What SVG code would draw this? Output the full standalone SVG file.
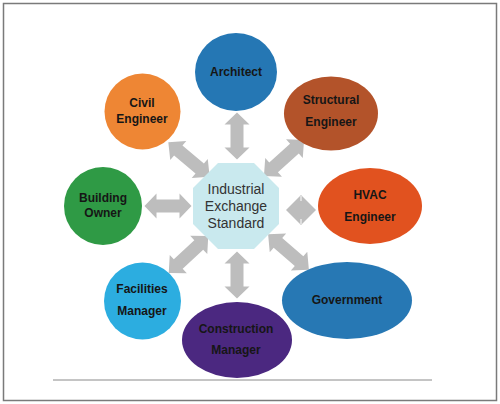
<svg xmlns="http://www.w3.org/2000/svg" width="500" height="404" viewBox="0 0 500 404">
<style>
.lbl{font-family:"Liberation Sans",Arial,sans-serif;font-weight:bold;font-size:12px;fill:#161616;text-anchor:middle}
.ctr{font-family:"Liberation Sans",Arial,sans-serif;font-size:14px;fill:#333;text-anchor:middle}
.arr{fill:#bdbdbd}
</style>
<defs>
<path id="dlong" d="M-27,0 L-14,-12.5 L-14,-6.5 L14,-6.5 L14,-12.5 L27,0 L14,12.5 L14,6.5 L-14,6.5 L-14,12.5 Z"/>
<path id="dshort" d="M-23.5,0 L-11.5,-12.5 L-11.5,-6.5 L11.5,-6.5 L11.5,-12.5 L23.5,0 L11.5,12.5 L11.5,6.5 L-11.5,6.5 L-11.5,12.5 Z"/>
</defs>
<rect x="0" y="0" width="500" height="404" fill="#fff"/>
<rect x="3.5" y="3.5" width="493" height="397" fill="#fff" stroke="#7a7a7a" stroke-width="1.5"/>
<line x1="53" y1="380" x2="432" y2="380" stroke="#8a8a8a" stroke-width="1"/>
<g id="connectors" class="arr">
<use href="#dshort" transform="translate(237,136) rotate(90)"/>
<use href="#dshort" transform="translate(237,275) rotate(90)"/>
<use href="#dshort" transform="translate(168,206)"/>
<use href="#dlong" transform="translate(189,159.5) rotate(40)"/>
<use href="#dlong" transform="translate(284,158) rotate(-42)"/>
<use href="#dlong" transform="translate(188.5,254.5) rotate(-43)"/>
<use href="#dlong" transform="translate(288.5,252) rotate(41)"/>
<g id="hvac-link">
<polygon points="286,210 301,195 316,210 301,225"/>
<line x1="301" y1="196" x2="301" y2="201" stroke="#fff" stroke-width="1"/>
<line x1="301" y1="219" x2="301" y2="224" stroke="#fff" stroke-width="1"/>
</g>
</g>
<g id="center">
<polygon points="218,163 254,163 279,188 279,224 254,249 218,249 193,224 193,188" fill="#c9e9ee"/>
<text class="ctr" x="236" y="194">Industrial</text>
<text class="ctr" x="236" y="211">Exchange</text>
<text class="ctr" x="236" y="228">Standard</text>
</g>
<g id="architect">
<ellipse cx="236" cy="72" rx="41" ry="39" fill="#2577b4"/>
<text class="lbl" x="236" y="76">Architect</text>
</g>
<g id="civil">
<ellipse cx="142.5" cy="111.5" rx="38" ry="38" fill="#ee8634"/>
<text class="lbl" x="142" y="107">Civil</text>
<text class="lbl" x="142" y="123">Engineer</text>
</g>
<g id="structural">
<ellipse cx="331" cy="113.5" rx="47" ry="37" fill="#b3532a"/>
<text class="lbl" x="331" y="104">Structural</text>
<text class="lbl" x="331" y="126">Engineer</text>
</g>
<g id="building">
<ellipse cx="103" cy="206" rx="39" ry="39" fill="#2f9a45"/>
<text class="lbl" x="103" y="202">Building</text>
<text class="lbl" x="103" y="217">Owner</text>
</g>
<g id="hvac">
<ellipse cx="370" cy="206" rx="52" ry="38" fill="#e1521f"/>
<text class="lbl" x="370" y="199">HVAC</text>
<text class="lbl" x="370" y="221">Engineer</text>
</g>
<g id="facilities">
<ellipse cx="142.5" cy="301" rx="38.5" ry="38.5" fill="#2cade0"/>
<text class="lbl" x="142" y="293">Facilities</text>
<text class="lbl" x="142" y="315">Manager</text>
</g>
<g id="government">
<ellipse cx="347" cy="300.5" rx="65" ry="38.5" fill="#2778b4"/>
<text class="lbl" x="347" y="304">Government</text>
</g>
<g id="construction">
<ellipse cx="237" cy="340" rx="55" ry="38" fill="#4b2880"/>
<text class="lbl" x="236" y="333">Construction</text>
<text class="lbl" x="236" y="354">Manager</text>
</g>
</svg>
